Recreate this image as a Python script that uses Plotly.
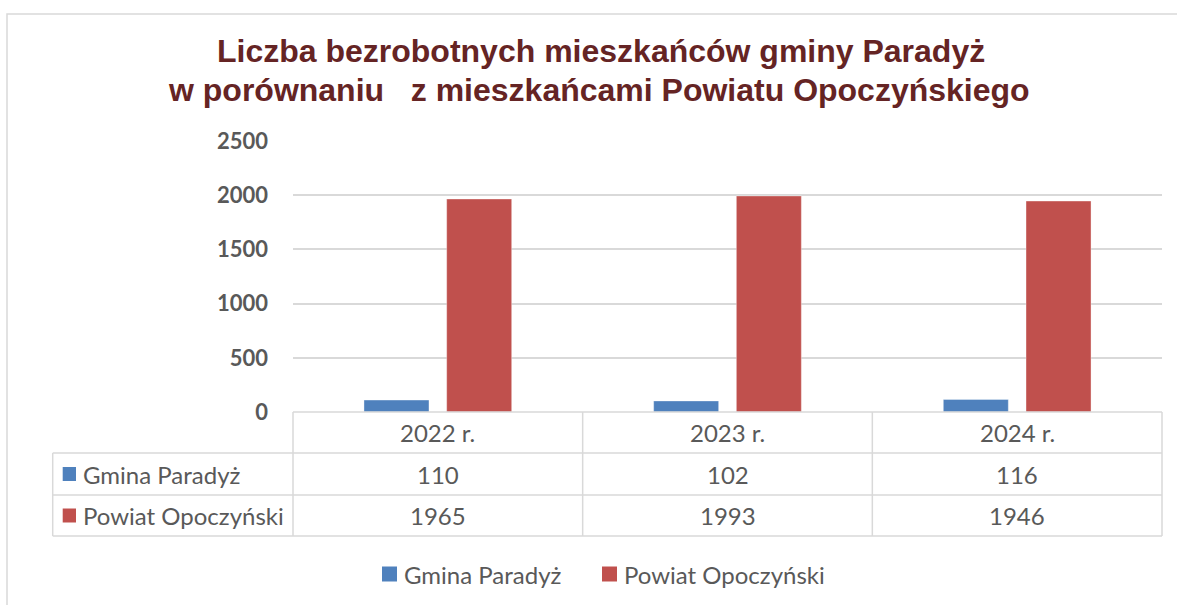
import plotly.graph_objects as go

categories = ["2022 r.", "2023 r.", "2024 r."]
gmina = [110, 102, 116]
powiat = [1965, 1993, 1946]
series_names = ["Gmina Paradyż", "Powiat Opoczyński"]
colors = ["#4F81BD", "#C0504D"]
y_ticks = [0, 500, 1000, 1500, 2000, 2500]

title_line1 = "Liczba bezrobotnych mieszkańców gminy Paradyż"
title_line2 = "w porównaniu\u00a0\u00a0\u00a0z mieszkańcami Powiatu Opoczyńskiego"

TXT = "#595959"
GRID = "#D9D9D9"
FONT = "Lato"

fig = go.Figure()
for name, vals, col in zip(series_names, [gmina, powiat], colors):
    fig.add_trace(go.Bar(
        x=list(range(len(categories))), y=vals, name=name,
        marker=dict(color=col, line=dict(color="rgba(255,255,255,0.6)", width=0.6)),
        showlegend=False,
    ))

W, H = 1177, 605
L, R, T, B = 293, 15, 141, 193
ph = H - T - B


def py(pix):
    return (H - B - pix) / ph


def px(pix):
    return (pix - L) / (W - L - R)


shapes = []
# outer chart border
shapes.append(dict(type="rect", xref="paper", yref="paper", x0=px(7), x1=1.05, y0=-0.8, y1=py(14),
                   line=dict(color=GRID, width=1.5), fillcolor="rgba(0,0,0,0)", layer="below"))
n = len(categories)
row_y = [py(412), py(453), py(495), py(536)]
left_x = px(52.7)
shapes.append(dict(type="line", xref="x domain", yref="paper", x0=0, x1=1, y0=row_y[0], y1=row_y[0],
                   line=dict(color=GRID, width=1.5)))
for yy in row_y[1:]:
    shapes.append(dict(type="line", xref="x domain", yref="paper", x0=left_x, x1=1, y0=yy, y1=yy,
                       line=dict(color=GRID, width=1.5)))
for i in range(n + 1):
    shapes.append(dict(type="line", xref="x domain", yref="paper", x0=i / n, x1=i / n,
                       y0=row_y[0], y1=row_y[3], line=dict(color=GRID, width=1.5)))
shapes.append(dict(type="line", xref="x domain", yref="paper", x0=left_x, x1=left_x,
                   y0=row_y[1], y1=row_y[3], line=dict(color=GRID, width=1.5)))

annotations = []
header_y = (row_y[0] + row_y[1]) / 2
r1_y = (row_y[1] + row_y[2]) / 2
r2_y = (row_y[2] + row_y[3]) / 2
cell_font = dict(family=FONT, size=24, color=TXT)
for i, c in enumerate(categories):
    annotations.append(dict(x=i, y=header_y, xref="x", yref="paper", text=c, showarrow=False,
                            font=cell_font, xanchor="center", yanchor="middle"))
    annotations.append(dict(x=i, y=r1_y, xref="x", yref="paper", text=str(gmina[i]), showarrow=False,
                            font=cell_font, xanchor="center", yanchor="middle"))
    annotations.append(dict(x=i, y=r2_y, xref="x", yref="paper", text=str(powiat[i]), showarrow=False,
                            font=cell_font, xanchor="center", yanchor="middle"))

# row labels in data table
for name, col, yy in zip(series_names, colors, [r1_y, r2_y]):
    shapes.append(dict(type="rect", xref="paper", yref="paper", x0=px(62.7), x1=px(76),
                       y0=yy - 7 / ph, y1=yy + 7 / ph, fillcolor=col, line=dict(width=0)))
    annotations.append(dict(x=px(81), y=yy, xref="paper", yref="paper", text=name, showarrow=False,
                            font=cell_font, xanchor="left", yanchor="middle"))

# bottom legend
leg_y = py(574)
for name, col, sx in zip(series_names, colors, [382, 602]):
    shapes.append(dict(type="rect", xref="paper", yref="paper", x0=px(sx), x1=px(sx + 15),
                       y0=leg_y - 7.5 / ph, y1=leg_y + 7.5 / ph, fillcolor=col, line=dict(width=0)))
    annotations.append(dict(x=px(sx + 20), y=leg_y, xref="paper", yref="paper", text=name, showarrow=False,
                            font=cell_font, xanchor="left", yanchor="middle"))

title_font = dict(family="Liberation Sans", size=32, color="#652424", weight="bold")
annotations.append(dict(x=px(600.5), y=py(51), xref="paper", yref="paper", text=f"<b>{title_line1}</b>",
                        showarrow=False, font=title_font, xanchor="center", yanchor="middle"))
annotations.append(dict(x=px(598.5), y=py(90), xref="paper", yref="paper", text=f"<b>{title_line2}</b>",
                        showarrow=False, font=title_font, xanchor="center", yanchor="middle"))

fig.update_layout(
    width=W, height=H,
    margin=dict(l=L, r=R, t=T, b=B, pad=0),
    paper_bgcolor="white", plot_bgcolor="white",
    barmode="group", bargap=0.429, bargroupgap=0.214,
    shapes=shapes, annotations=annotations,
    showlegend=False,
    xaxis=dict(range=[-0.5, n - 0.5], showticklabels=False, showgrid=False, zeroline=False,
               showline=False, ticks=""),
    yaxis=dict(range=[0, 2500], tickvals=y_ticks, showgrid=True, gridcolor=GRID, gridwidth=1.5,
               zeroline=False, showline=False, ticks="", ticklabelstandoff=24,
               tickfont=dict(family=FONT, size=22, color=TXT, weight="bold")),
)

fig.write_html("out.html", config={"displayModeBar": False},
               post_script="document.body.style.margin='0';document.body.style.overflow='hidden';")
